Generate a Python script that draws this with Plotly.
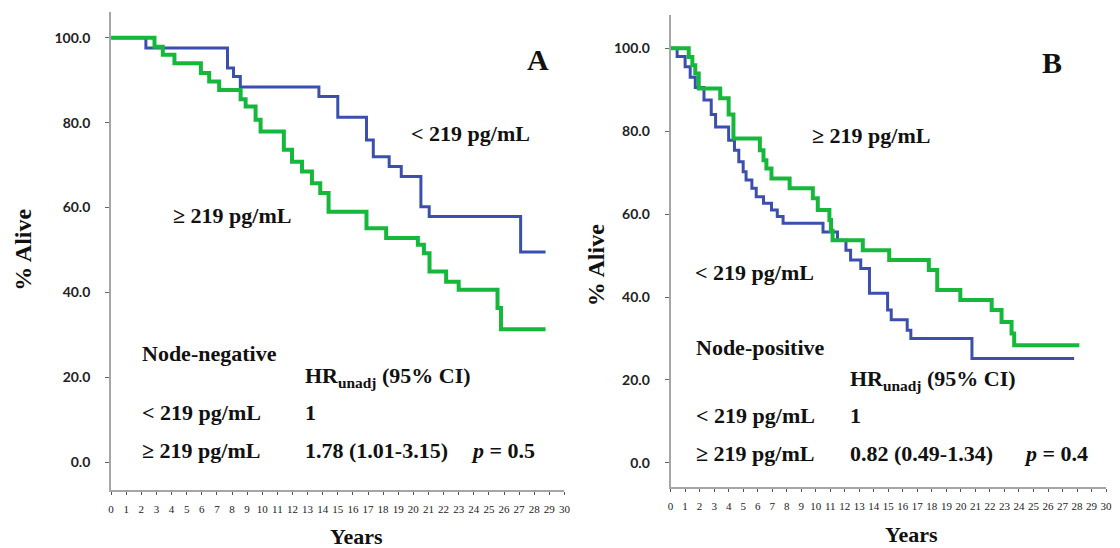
import plotly.graph_objects as go

# ---------------- DATA ----------------
# Panel A (Node-negative): Kaplan-Meier step data (years, % alive)
a_low_t = [0, 2.3, 7.7, 8.1, 8.55, 13.75, 15.0, 16.9, 17.35, 18.4, 19.2, 20.5, 21.05, 27.1, 28.75]
a_low_s = [100, 97.6, 92.9, 90.9, 88.4, 86.2, 81.3, 75.9, 72.0, 69.7, 67.3, 60.2, 57.9, 49.5, 49.5]

a_high_t = [0, 2.87, 3.42, 4.19, 5.94, 6.49, 7.15, 8.57, 8.9, 9.56, 9.89, 11.43, 11.97, 12.63,
            13.29, 13.84, 14.39, 16.9, 18.2, 20.3, 20.7, 21.07, 22.17, 23.0, 25.57, 25.8, 28.75]
a_high_s = [100, 97.9, 96.0, 94.0, 91.7, 89.7, 87.7, 85.5, 83.8, 80.7, 77.9, 73.6, 70.8, 68.5,
            65.7, 63.4, 59.0, 55.1, 52.8, 51.2, 49.2, 44.9, 42.5, 40.6, 36.3, 31.3, 31.3]

# Panel B (Node-positive)
b_low_t = [0, 0.45, 1.0, 1.35, 1.7, 2.3, 2.8, 3.1, 4.0, 4.4, 4.7, 5.0, 5.2, 5.6, 5.9, 6.4, 6.95,
           7.35, 7.75, 10.5, 11.5, 12.08, 12.4, 13.1, 13.7, 14.95, 15.2, 16.3, 16.55, 20.76, 27.8]
b_low_s = [100, 98.0, 95.5, 93.0, 90.5, 87.5, 84.0, 81.0, 77.8, 75.4, 72.6, 70.2, 68.2, 66.2, 64.2,
           62.6, 61.0, 59.4, 57.8, 55.7, 53.7, 51.3, 48.9, 46.9, 40.9, 36.9, 34.5, 32.0, 30.0, 25.2, 25.2]

b_high_t = [0, 1.25, 1.5, 1.7, 1.94, 3.42, 4.0, 4.33, 6.15, 6.4, 6.6, 6.95, 8.2, 9.8, 10.14, 10.94,
            11.05, 11.16, 13.24, 15.06, 17.79, 18.37, 19.96, 22.12, 22.8, 23.49, 23.67, 28.16]
b_high_s = [100, 97.9, 95.9, 93.9, 90.3, 87.9, 84.0, 78.2, 75.4, 73.0, 71.0, 68.6, 66.2, 63.8, 61.0,
            58.6, 56.0, 53.7, 51.3, 48.9, 46.5, 41.7, 39.3, 36.9, 34.0, 31.2, 28.4, 28.4]

y_ticks = [0, 20, 40, 60, 80, 100]
x_ticks = list(range(0, 31))

BLUE = "#3b4fae"
GREEN = "#16b83c"
W, H = 1120, 548

def px(x):
    return x / W

def py(y):
    return 1 - y / H

fig = go.Figure()

fig.add_trace(go.Scatter(x=a_low_t, y=a_low_s, mode="lines", line=dict(color=BLUE, width=3, shape="hv"),
                         xaxis="x", yaxis="y", showlegend=False))
fig.add_trace(go.Scatter(x=a_high_t, y=a_high_s, mode="lines", line=dict(color=GREEN, width=4, shape="hv"),
                         xaxis="x", yaxis="y", showlegend=False))
fig.add_trace(go.Scatter(x=b_low_t, y=b_low_s, mode="lines", line=dict(color=BLUE, width=3, shape="hv"),
                         xaxis="x2", yaxis="y2", showlegend=False))
fig.add_trace(go.Scatter(x=b_high_t, y=b_high_s, mode="lines", line=dict(color=GREEN, width=4, shape="hv"),
                         xaxis="x2", yaxis="y2", showlegend=False))

AXC = "#a6a6a6"
xcommon = dict(range=[0, 30], tickvals=x_ticks, ticktext=[str(v) for v in x_ticks],
               showline=True, linecolor=AXC, linewidth=2, ticks="outside", ticklen=3,
               tickcolor="#555", tickwidth=1, showgrid=False, zeroline=False,
               tickfont=dict(family="Liberation Serif", size=11, color="#222"),
               ticklabelstandoff=5, fixedrange=True)
ycommon = dict(tickvals=y_ticks, ticktext=[f"{v:.1f}" for v in y_ticks],
               showline=True, linecolor=AXC, linewidth=2, ticks="outside", ticklen=4,
               tickcolor="#666", tickwidth=1, showgrid=False, zeroline=False,
               tickfont=dict(family="Lato", size=14, color="#222", weight="bold"),
               ticklabelstandoff=12, fixedrange=True)

fig.update_layout(
    width=W, height=H, autosize=False,
    margin=dict(l=0, r=0, t=0, b=0),
    paper_bgcolor="white", plot_bgcolor="white",
    xaxis=dict(domain=[px(109), px(566)], anchor="y", **xcommon),
    yaxis=dict(domain=[py(490), py(12)], anchor="x", range=[-6.6, 106.1], **ycommon),
    xaxis2=dict(domain=[px(673), px(1112)], anchor="y2", **xcommon),
    yaxis2=dict(domain=[py(487), py(15)], anchor="x2", range=[-5.8, 108], **ycommon),
)

SERIF = "Liberation Serif"

def txt(x, y, s, size=22, xanchor="center", angle=0, bold=True):
    fig.add_annotation(x=px(x), y=py(y), xref="paper", yref="paper", text=s, showarrow=False,
                       xanchor=xanchor, yanchor="middle", textangle=angle,
                       font=dict(family=SERIF, size=size, color="#111", weight="bold" if bold else "normal"))

# Axis titles
txt(20, 250, "% Alive", size=24, angle=-90)
txt(598, 265, "% Alive", size=24, angle=-90)
txt(356, 536, "Years", size=22)
txt(916, 534, "Years", size=22)

# Panel letters
txt(539, 60, "A", size=30)
txt(1057, 62, "B", size=30)

# Panel A labels
txt(471, 133, "< 219 pg/mL", size=22)
txt(231, 216, "≥ 219 pg/mL", size=22)
txt(138, 353, "Node-negative", size=22, xanchor="left")
txt(302, 377, "HR<sub>unadj</sub> (95% CI)", size=22, xanchor="left")
txt(138, 412, "< 219 pg/mL", size=22, xanchor="left")
txt(302, 412, "1", size=22, xanchor="left")
txt(138, 450, "≥ 219 pg/mL", size=22, xanchor="left")
txt(302, 450, "1.78 (1.01-3.15)", size=22, xanchor="left")
txt(470, 450, "<i>p</i> = 0.5", size=22, xanchor="left")

# Panel B labels
txt(875, 135, "≥ 219 pg/mL", size=22)
txt(758, 272, "< 219 pg/mL", size=22)
txt(697, 347, "Node-positive", size=22, xanchor="left")
txt(852, 380, "HR<sub>unadj</sub> (95% CI)", size=22, xanchor="left")
txt(697, 415, "< 219 pg/mL", size=22, xanchor="left")
txt(852, 415, "1", size=22, xanchor="left")
txt(697, 453, "≥ 219 pg/mL", size=22, xanchor="left")
txt(852, 453, "0.82 (0.49-1.34)", size=22, xanchor="left")
txt(1027, 453, "<i>p</i> = 0.4", size=22, xanchor="left")

fig.write_html("out.html", config={"displayModeBar": False},
               post_script="document.body.style.margin='0';")
